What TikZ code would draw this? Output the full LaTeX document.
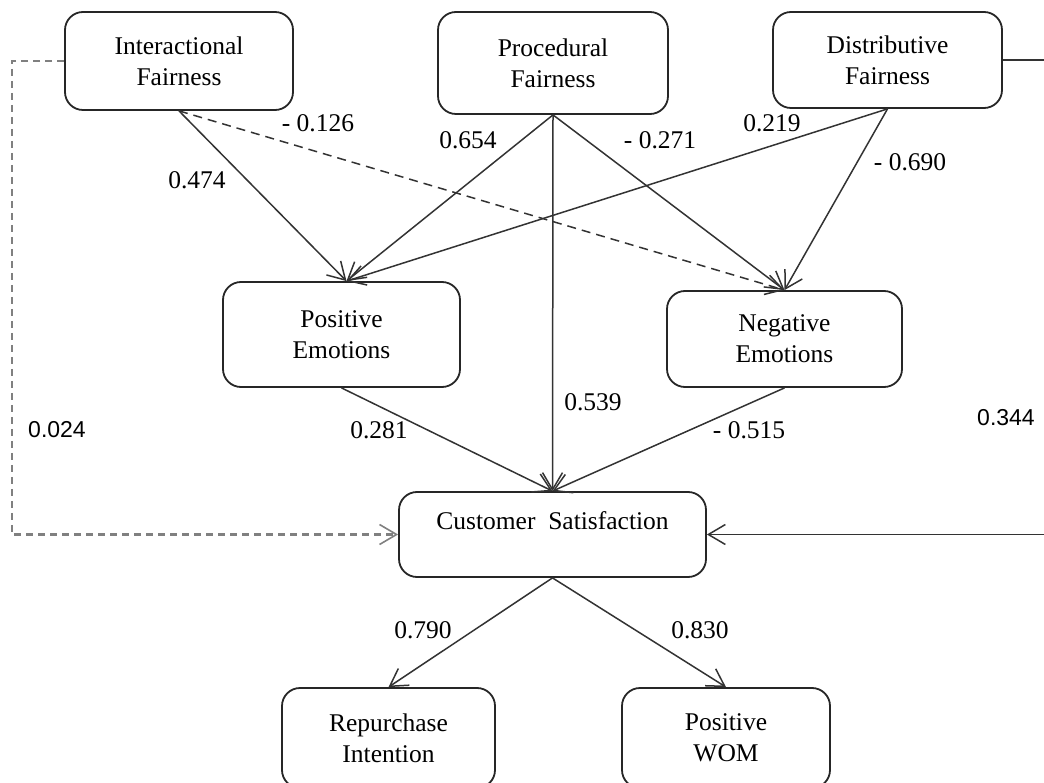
\documentclass[tikz,border=0pt]{standalone}
\usepackage{fontspec}
\setmainfont{Liberation Serif}
\setsansfont{Liberation Sans}
\usetikzlibrary{arrows.meta}
\begin{document}
\begin{tikzpicture}[x=1pt,y=-1pt,
  box/.style={draw=black!85,line width=1.8pt,rounded corners=18pt,align=center,inner sep=0pt,
    font=\fontsize{25.5}{31}\selectfont},
  lab/.style={font=\fontsize{25.5}{31}\selectfont,inner sep=0pt},
  slab/.style={font=\sffamily\fontsize{23}{28}\selectfont,inner sep=0pt},
  conn/.style={draw=black!80,line width=1.5pt,-{Straight Barb[length=17pt,width=20pt]}},
  dconn/.style={conn,dash pattern=on 9pt off 6pt},
  gconn/.style={draw=black!50,line width=2.4pt,dash pattern=on 7pt off 5pt,-{Straight Barb[length=17pt,width=20pt,line width=1.6pt]}}
]
\useasboundingbox (0,0) rectangle (1044,783);
\node[box,minimum width=228pt,minimum height=98pt] (int) at (179,61) {Interactional\\Fairness};
\node[box,minimum width=230pt,minimum height=102pt] (proc) at (553,63) {Procedural\\Fairness};
\node[box,minimum width=229pt,minimum height=96pt] (dist) at (887.5,60) {Distributive\\Fairness};
\node[box,minimum width=237pt,minimum height=105pt] (pos) at (341.5,334.5) {Positive\\Emotions};
\node[box,minimum width=235pt,minimum height=96pt] (neg) at (784.5,339) {Negative\\Emotions};
\node[box,minimum width=307pt,minimum height=85pt,text height=20pt,text depth=30pt] (cs) at (552.5,534.5) {Customer\ \ Satisfaction};
\node[box,minimum width=213pt,minimum height=100pt] (rep) at (388.5,738) {Repurchase\\Intention};
\node[box,minimum width=208pt,minimum height=100pt] (wom) at (726,738) {Positive\\WOM};

\coordinate (lc) at (12,61);
\coordinate (rc) at (1070,60);

\draw[conn] (int.south) -- ([xshift=5pt]pos.north);
\draw[dconn] (int.south) -- (neg.north);
\draw[conn] (proc.south) -- ([xshift=5pt]pos.north);
\draw[conn] (proc.south) -- (cs.north);
\draw[conn] (proc.south) -- (neg.north);
\draw[conn] (dist.south) -- ([xshift=5pt]pos.north);
\draw[conn] (dist.south) -- (neg.north);
\draw[conn] (pos.south) -- (cs.north);
\draw[conn] (neg.south) -- (cs.north);
\draw[conn] (cs.south) -- (rep.north);
\draw[conn] (cs.south) -- (wom.north);
\draw[gconn] (int.west) -- (lc) |- (cs.west);
\draw[conn] (dist.east) -- (rc) |- (cs.east);

\node[lab] (l1) at (197,180) {0.474};
\node[lab] (l2) at (318,123) {- 0.126};
\node[lab] (l3) at (468,140) {0.654};
\node[lab] (l4) at (660,140) {- 0.271};
\node[lab] (l5) at (772,123) {0.219};
\node[lab] (l6) at (910,162) {- 0.690};
\node[lab] (l7) at (593,402) {0.539};
\node[lab] (l8) at (379,430) {0.281};
\node[lab] (l9) at (749,430) {- 0.515};
\node[lab] (l10) at (423,630) {0.790};
\node[lab] (l11) at (700,630) {0.830};
\node[slab] (l12) at (57,430) {0.024};
\node[slab] (l13) at (1006,418) {0.344};
\end{tikzpicture}
\end{document}
